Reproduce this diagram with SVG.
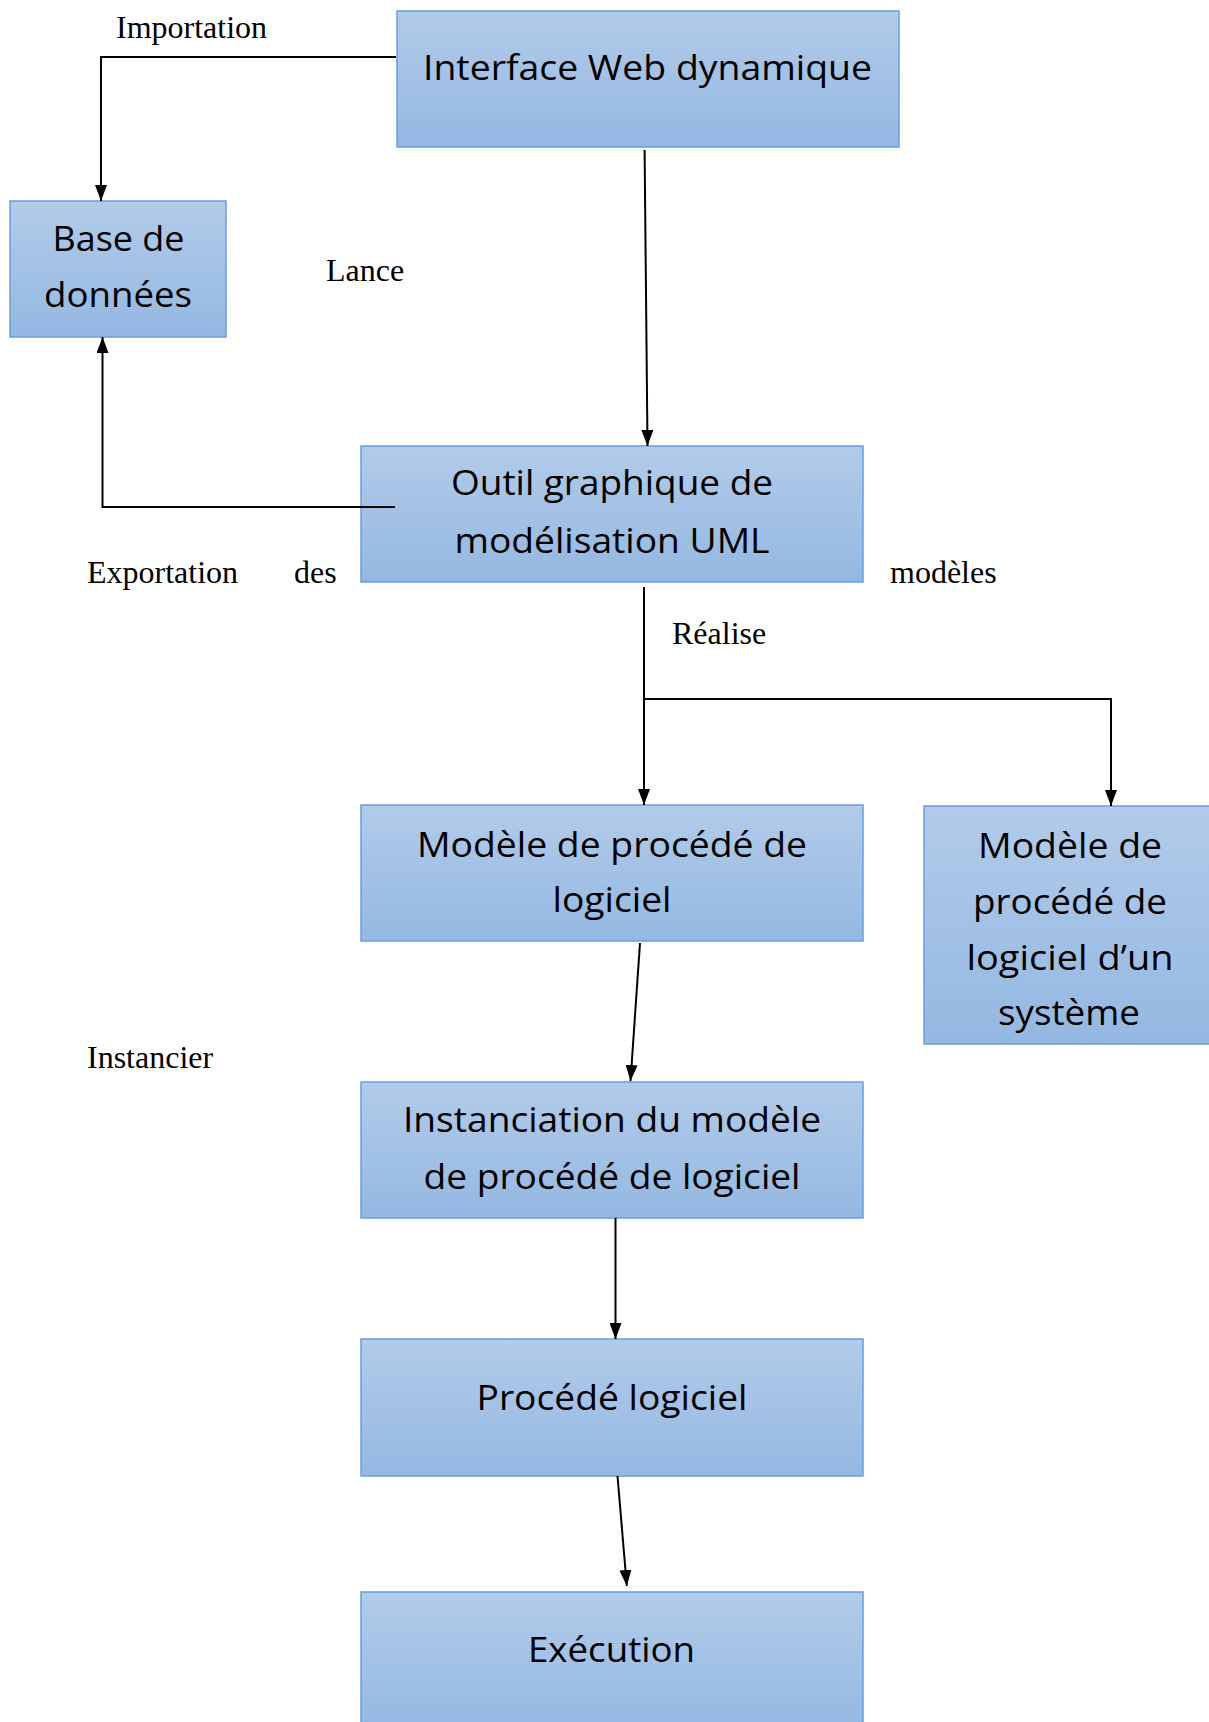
<svg xmlns="http://www.w3.org/2000/svg" width="1209" height="1722" viewBox="0 0 1209 1722">
  <defs>
    <linearGradient id="boxFill" x1="0" y1="0" x2="0" y2="1">
      <stop offset="0" stop-color="#b2cbe9"/>
      <stop offset="1" stop-color="#94b8e2"/>
    </linearGradient>
    <marker id="arrow" markerUnits="userSpaceOnUse" markerWidth="16" markerHeight="12" refX="16" refY="6" orient="auto">
      <path d="M0,0 L16,6 L0,12 z" fill="#000"/>
    </marker>
    <style>
      .box { fill: url(#boxFill); stroke: #6a9fdb; stroke-width: 1.5; }
      .lbl { font-family: "Open Sans", "Liberation Sans", sans-serif; font-size: 34px; fill: #000; text-anchor: middle; }
      .edge { fill: none; stroke: #000; stroke-width: 2; }
      .note { font-family: "Liberation Serif", serif; font-size: 32px; fill: #000; }
    </style>
  </defs>
  <rect width="1209" height="1722" fill="#fff"/>

  <!-- connector labels -->
  <g id="labels">
    <text class="note" x="116" y="38">Importation</text>
    <text class="note" x="326" y="281">Lance</text>
    <text class="note" x="87" y="583">Exportation</text>
    <text class="note" x="294" y="583">des</text>
    <text class="note" x="890" y="583">modèles</text>
    <text class="note" x="672" y="644">Réalise</text>
    <text class="note" x="87" y="1068">Instancier</text>
  </g>

  <g id="web">
    <rect class="box" x="397" y="11" width="502" height="136"/>
    <text class="lbl" x="647.5" y="80" textLength="449" lengthAdjust="spacingAndGlyphs">Interface Web dynamique</text>
  </g>

  <g id="db">
    <rect class="box" x="10" y="201" width="216" height="136"/>
    <text class="lbl" x="118.5" y="251" textLength="132" lengthAdjust="spacingAndGlyphs">Base de</text>
    <text class="lbl" x="118" y="307" textLength="148" lengthAdjust="spacingAndGlyphs">données</text>
  </g>

  <g id="uml">
    <rect class="box" x="361" y="446" width="502" height="136"/>
    <text class="lbl" x="612" y="495" textLength="322" lengthAdjust="spacingAndGlyphs">Outil graphique de</text>
    <text class="lbl" x="612" y="553" textLength="315" lengthAdjust="spacingAndGlyphs">modélisation UML</text>
  </g>

  <g id="model">
    <rect class="box" x="361" y="805" width="502" height="136"/>
    <text class="lbl" x="612" y="857" textLength="390" lengthAdjust="spacingAndGlyphs">Modèle de procédé de</text>
    <text class="lbl" x="612" y="912" textLength="119" lengthAdjust="spacingAndGlyphs">logiciel</text>
  </g>

  <g id="system-model">
    <rect class="box" x="924" y="806" width="300" height="238"/>
    <text class="lbl" x="1070" y="858" textLength="184" lengthAdjust="spacingAndGlyphs">Modèle de</text>
    <text class="lbl" x="1070" y="914" textLength="194" lengthAdjust="spacingAndGlyphs">procédé de</text>
    <text class="lbl" x="1070" y="970" textLength="207" lengthAdjust="spacingAndGlyphs">logiciel d’un</text>
    <text class="lbl" x="1069" y="1025" textLength="142" lengthAdjust="spacingAndGlyphs">système</text>
  </g>

  <g id="instance">
    <rect class="box" x="361" y="1082" width="502" height="136"/>
    <text class="lbl" x="612" y="1132" textLength="418" lengthAdjust="spacingAndGlyphs">Instanciation du modèle</text>
    <text class="lbl" x="612" y="1189" textLength="377" lengthAdjust="spacingAndGlyphs">de procédé de logiciel</text>
  </g>

  <g id="process">
    <rect class="box" x="361" y="1339" width="502" height="137"/>
    <text class="lbl" x="612" y="1410" textLength="271" lengthAdjust="spacingAndGlyphs">Procédé logiciel</text>
  </g>

  <g id="execution">
    <rect class="box" x="361" y="1592" width="502" height="140"/>
    <text class="lbl" x="611.5" y="1662" textLength="167" lengthAdjust="spacingAndGlyphs">Exécution</text>
  </g>

  <!-- connectors, drawn over the boxes -->
  <g id="connectors">
    <polyline class="edge" points="396,57 101,57 101,201" marker-end="url(#arrow)"/>
    <line class="edge" x1="644.6" y1="150" x2="647.5" y2="446" marker-end="url(#arrow)"/>
    <polyline class="edge" points="395,507 102.5,507 102.5,337" marker-end="url(#arrow)"/>
    <line class="edge" x1="644" y1="587" x2="644" y2="805" marker-end="url(#arrow)"/>
    <polyline class="edge" points="644,699 1111,699 1111,806" marker-end="url(#arrow)"/>
    <line class="edge" x1="640" y1="943" x2="630.5" y2="1081" marker-end="url(#arrow)"/>
    <line class="edge" x1="615.5" y1="1218" x2="615.5" y2="1339" marker-end="url(#arrow)"/>
    <line class="edge" x1="617.5" y1="1476" x2="626.8" y2="1586" marker-end="url(#arrow)"/>
  </g>
</svg>
